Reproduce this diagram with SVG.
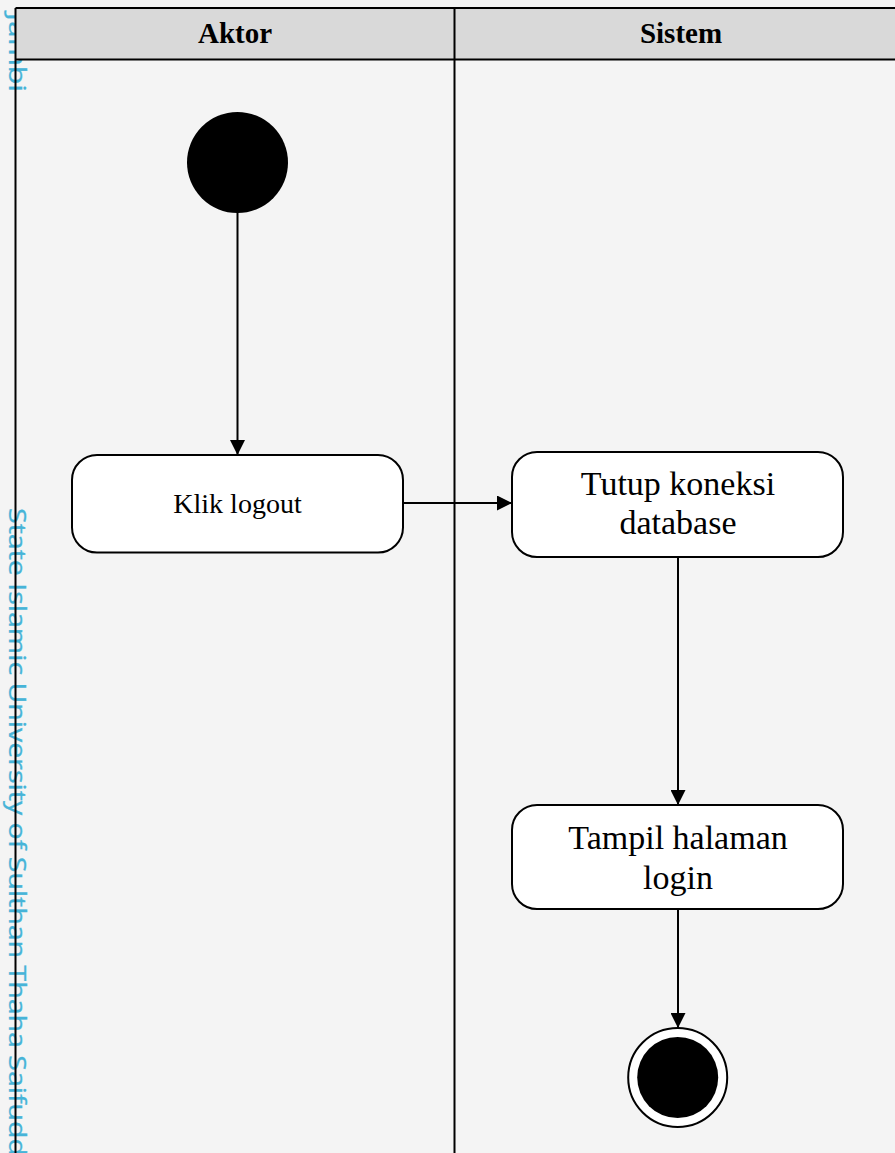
<svg xmlns="http://www.w3.org/2000/svg" width="895" height="1153" viewBox="0 0 895 1153">
<style>
.wm{font-family:"Open Sans","Liberation Sans",sans-serif;font-size:23px;fill:#34aed6;stroke:#34aed6;stroke-width:0.3;opacity:0.9}
.hdr{font-family:"Liberation Serif",serif;font-size:29px;font-weight:bold;fill:#000;text-anchor:middle}
.lbl{font-family:"Liberation Serif",serif;font-size:34px;fill:#000;text-anchor:middle}
.lbls{font-family:"Liberation Serif",serif;font-size:28px;fill:#000;text-anchor:middle}
.act{fill:#fff;stroke:#000;stroke-width:2}
.ln{stroke:#000;stroke-width:2;fill:none}
.edge{stroke:#000;stroke-width:2;fill:none;marker-end:url(#arr)}
</style>
<defs>
<marker id="arr" markerUnits="userSpaceOnUse" markerWidth="16" markerHeight="15" refX="15" refY="7.5" orient="auto">
<path d="M0,0 L15,7.5 L0,15 z" fill="#000"/>
</marker>
</defs>
<rect x="0" y="0" width="895" height="1153" fill="#f4f4f4"/>
<g id="watermark">
<text class="wm" transform="translate(9,13) rotate(90)" textLength="79" lengthAdjust="spacingAndGlyphs">Jambi</text>
<text class="wm" transform="translate(9,508) rotate(90)" textLength="648" lengthAdjust="spacingAndGlyphs">State Islamic University of Sulthan Thaha Saifudd</text>
</g>
<g id="swimlanes">
<rect x="15.5" y="8" width="890" height="51.5" fill="#d9d9d9"/>
<line class="ln" x1="15.5" y1="8" x2="895" y2="8"/>
<line class="ln" x1="15.5" y1="59.5" x2="895" y2="59.5"/>
<line class="ln" x1="15.5" y1="8" x2="15.5" y2="1153"/>
<line class="ln" x1="454.5" y1="8" x2="454.5" y2="1153"/>
<text class="hdr" x="235" y="43">Aktor</text>
<text class="hdr" x="681" y="43">Sistem</text>
</g>
<g id="connectors">
<line class="edge" x1="237.5" y1="212" x2="237.5" y2="455"/>
<line class="edge" x1="403" y1="503" x2="512" y2="503"/>
<line class="edge" x1="678" y1="557" x2="678" y2="805"/>
<line class="edge" x1="678" y1="909" x2="678" y2="1028"/>
</g>
<g id="start">
<circle cx="237.5" cy="162.5" r="50.5" fill="#000"/>
</g>
<g id="klik-logout">
<rect class="act" x="72" y="455" width="331" height="97.5" rx="25"/>
<text class="lbls" x="237.5" y="513">Klik logout</text>
</g>
<g id="tutup-koneksi">
<rect class="act" x="512" y="452" width="331" height="105" rx="25"/>
<text class="lbl" x="678" y="495">Tutup koneksi</text>
<text class="lbl" x="678" y="534">database</text>
</g>
<g id="tampil-login">
<rect class="act" x="512" y="805" width="331" height="104" rx="25"/>
<text class="lbl" x="678" y="849">Tampil halaman</text>
<text class="lbl" x="678" y="889">login</text>
</g>
<g id="end">
<circle cx="677.7" cy="1077.5" r="49.5" fill="#fff" stroke="#000" stroke-width="2"/>
<circle cx="677.7" cy="1077.5" r="40.5" fill="#000"/>
</g>
</svg>
